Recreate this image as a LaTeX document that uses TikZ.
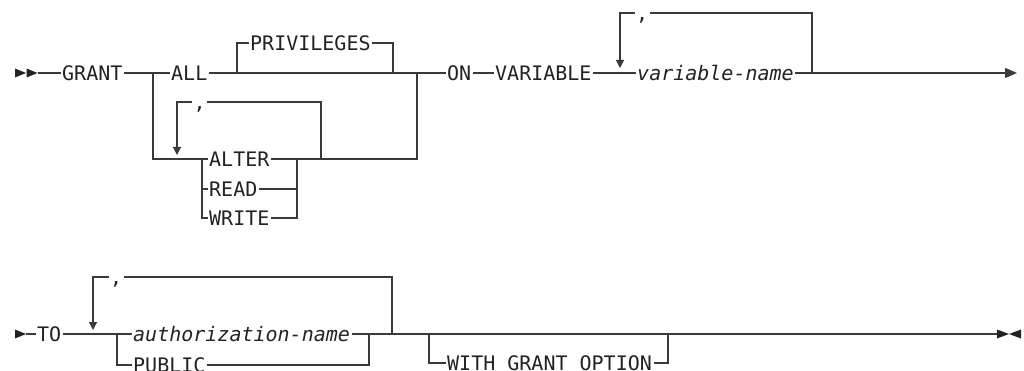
\documentclass[tikz,border=0pt]{standalone}
\usepackage{fontspec}
\newfontfamily\dmono{DejaVu Sans Mono}
\usetikzlibrary{arrows.meta}
\definecolor{ln}{HTML}{3A3A3A}
\definecolor{tx}{HTML}{222222}
\tikzset{
  lbl/.style={inner xsep=1.5pt, inner ysep=0pt, text height=14.5pt, text depth=0pt,
              anchor=west, text=tx, font=\dmono\fontsize{20}{24}\selectfont},
  rail/.style={draw=ln, line width=1.2pt},
  looptip/.style={-{Triangle[length=8pt,width=8pt]}},
  endtip/.style={-{Triangle[length=12pt,width=10pt]}},
  mark/.style={fill=tx}
}
\begin{document}
\begin{tikzpicture}[x=1pt,y=-1pt]
\useasboundingbox (0,0) rectangle (1024,371);

% ---------- line 1 ----------
\fill[tx] (15,68.5) -- (26,73) -- (15,77.5) -- cycle;
\fill[tx] (26.5,68.5) -- (37.5,73) -- (26.5,77.5) -- cycle;
\coordinate (st1) at (37.5,73);
\node[lbl] (grant) at (60.5,73) {GRANT};
\coordinate (j1) at (153,73);
\node[lbl] (all) at (169.5,73) {ALL};
\coordinate (p1) at (237,73);
\coordinate (p2) at (393,73);
\node[lbl] (priv) at (248.5,43) {PRIVILEGES};
\coordinate (j2) at (417,73);
\node[lbl] (on) at (445.5,73) {ON};
\node[lbl] (var) at (493.5,73) {VARIABLE};
\node[lbl] (vname) at (635.5,73) {\itshape variable-name};
\coordinate (vat) at (620,68);
\coordinate (vr) at (812,73);
\node[lbl] (vc) at (634.5,13) {,};
\coordinate (end1) at (1017,73);

\draw[rail] (st1) -- (grant.west);
\draw[rail] (grant.east) -- (all.west);
\draw[rail] (all.east) -- (on.west);
\draw[rail] (p1) |- (priv.west);
\draw[rail] (priv.east) -| (p2);
\draw[rail] (on.east) -- (var.west);
\draw[rail] (var.east) -- (vname.west);
\draw[rail,endtip] (vname.east) -- (end1);
\draw[rail] (vr) |- (vc.east);
\draw[rail,looptip] (vc.west) -| (vat);

% left branch
\coordinate (j1b) at (153,159);
\coordinate (j3) at (202,159);
\node[lbl] (alter) at (207.5,159) {ALTER};
\node[lbl] (read) at (207.5,189) {READ};
\node[lbl] (write) at (207.5,218) {WRITE};
\coordinate (j4) at (297,159);
\coordinate (lr) at (321,159);
\coordinate (j2b) at (417,159);
\node[lbl] (ac) at (192,102) {,};
\coordinate (aat) at (177,155);

\draw[rail] (j1) -- (j1b) -- (alter.west);
\draw[rail] (j3) |- (read.west);
\draw[rail] (j3) |- (write.west);
\draw[rail] (alter.east) -- (j2b) -- (j2);
\draw[rail] (read.east) -| (j4);
\draw[rail] (write.east) -| (j4);
\draw[rail] (lr) |- (ac.east);
\draw[rail,looptip] (ac.west) -| (aat);

% ---------- line 2 ----------
\fill[tx] (15,329.5) -- (26,334) -- (15,338.5) -- cycle;
\coordinate (st2) at (26,334);
\node[lbl] (to) at (35.5,334) {TO};
\coordinate (j5) at (117,334);
\node[lbl] (auth) at (131.5,334) {\itshape authorization-name};
\node[lbl] (public) at (131.5,365) {PUBLIC};
\coordinate (j6) at (369,334);
\coordinate (ta) at (93,330);
\node[lbl] (tc) at (108.5,277) {,};
\coordinate (tr) at (392,334);
\coordinate (j7) at (429,334);
\node[lbl] (wgo) at (445.5,363) {WITH GRANT OPTION};
\coordinate (j8) at (668,334);
\coordinate (end2) at (997,334);
\fill[tx] (997,329.5) -- (1009,334) -- (997,338.5) -- cycle;
\fill[tx] (1021,329.5) -- (1009,334) -- (1021,338.5) -- cycle;

\draw[rail] (st2) -- (to.west);
\draw[rail] (to.east) -- (auth.west);
\draw[rail] (j5) |- (public.west);
\draw[rail] (auth.east) -- (end2);
\draw[rail] (public.east) -| (j6);
\draw[rail] (tr) |- (tc.east);
\draw[rail,looptip] (tc.west) -| (ta);
\draw[rail] (j7) |- (wgo.west);
\draw[rail] (wgo.east) -| (j8);
\end{tikzpicture}
\end{document}
